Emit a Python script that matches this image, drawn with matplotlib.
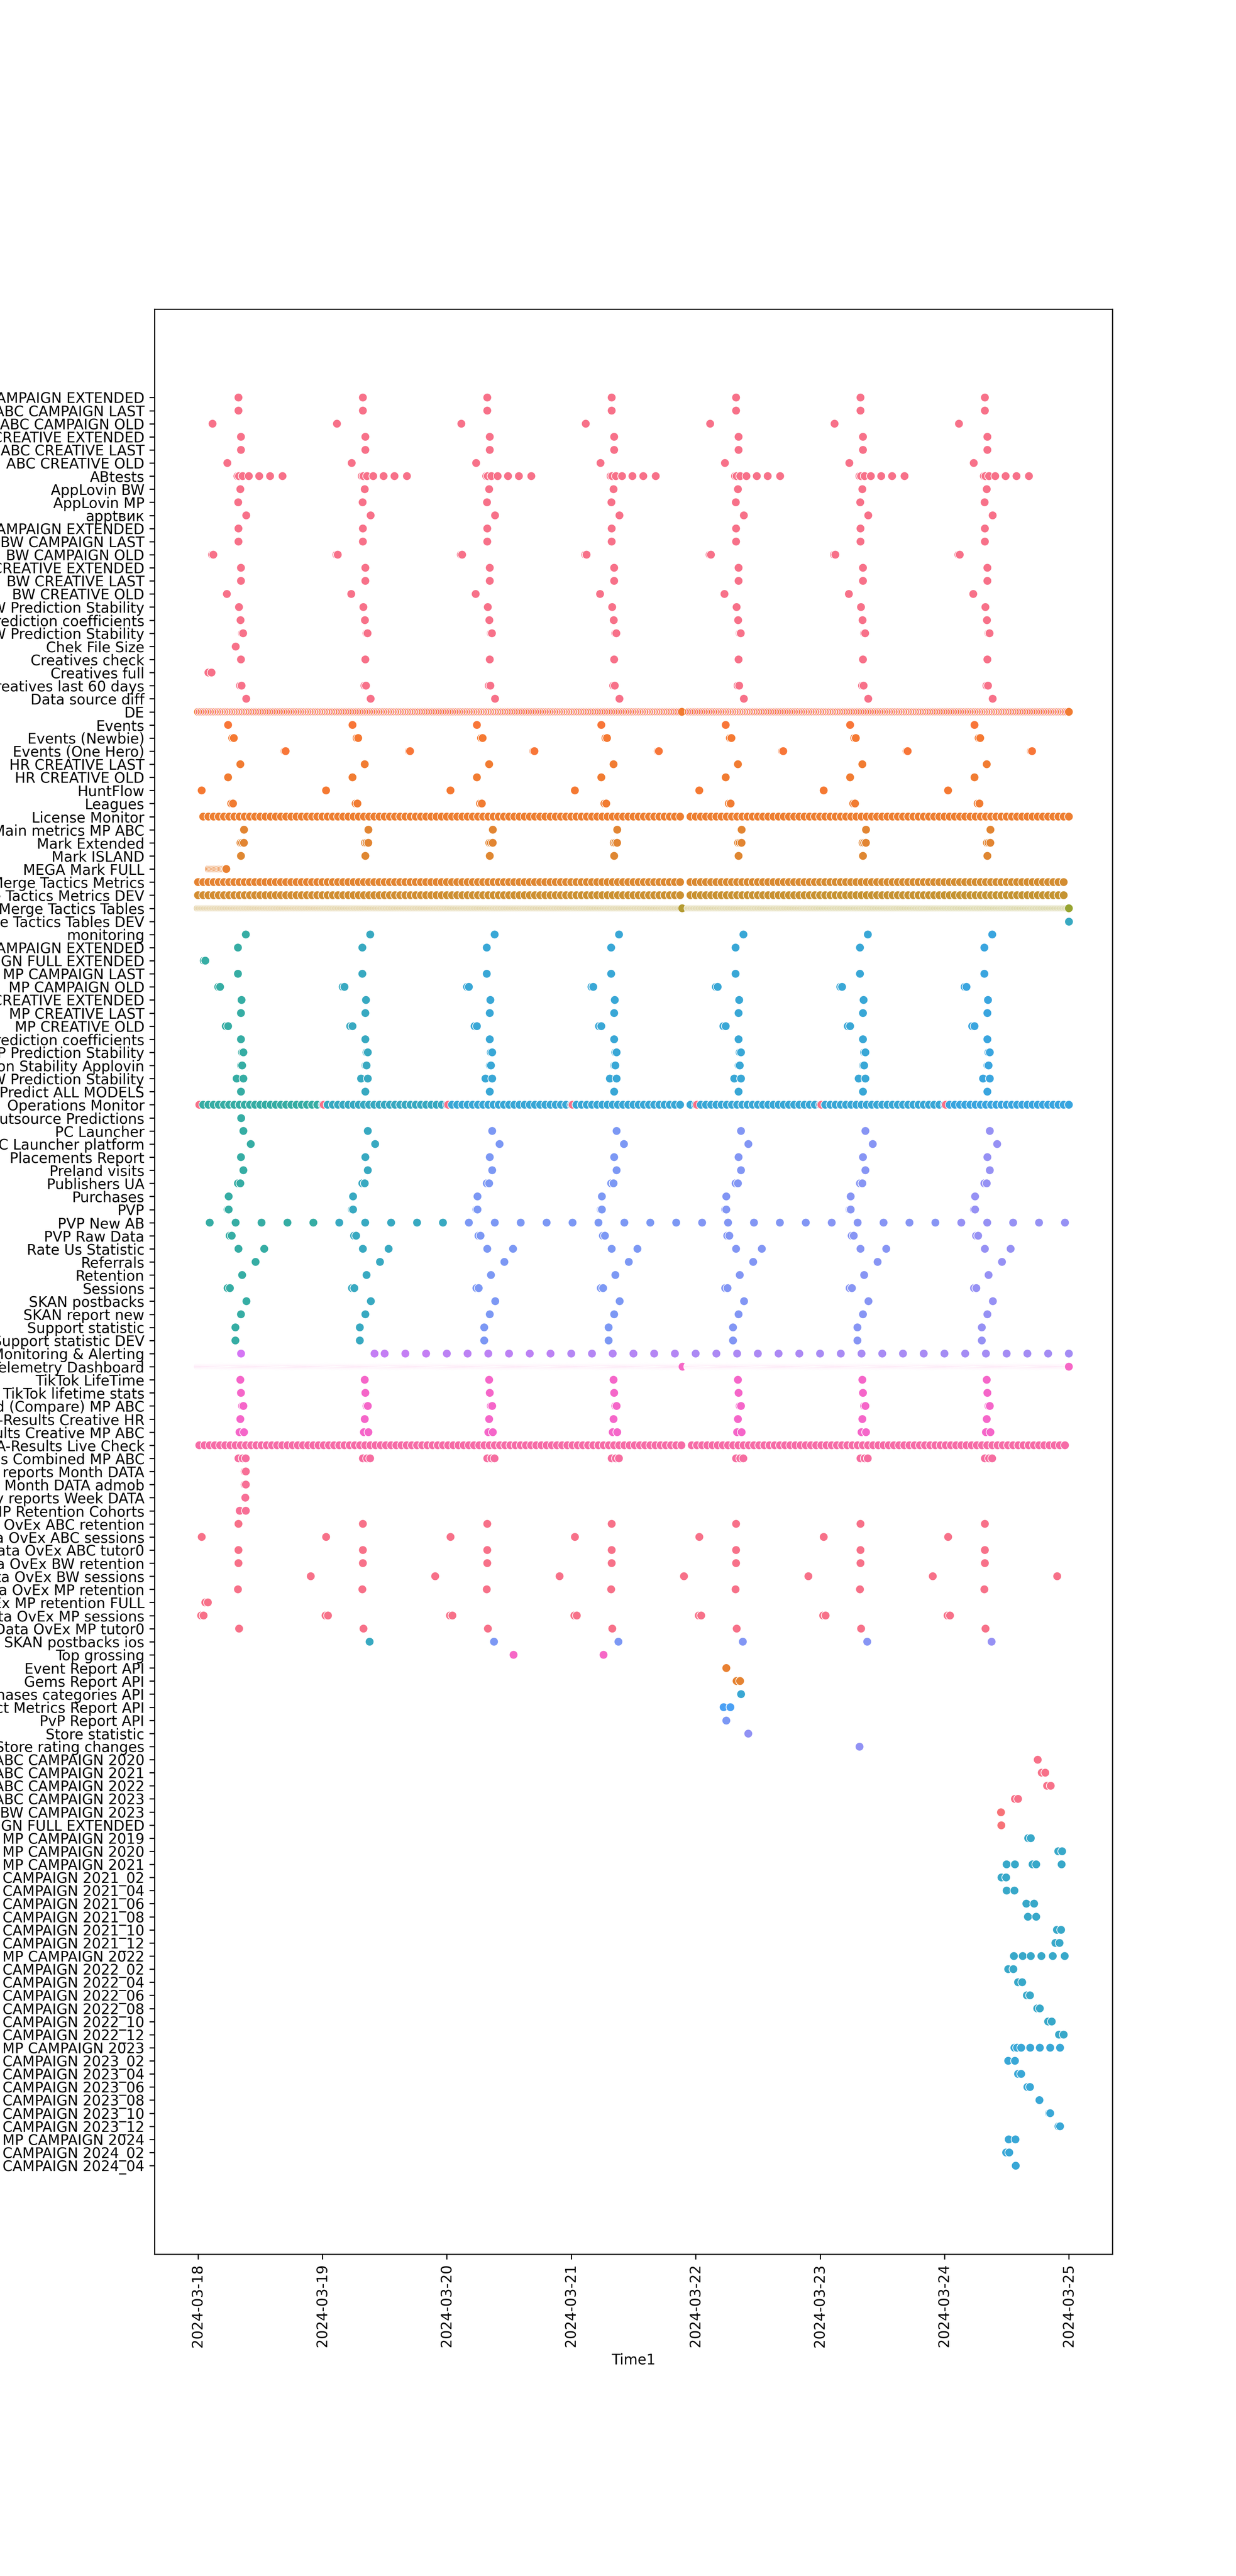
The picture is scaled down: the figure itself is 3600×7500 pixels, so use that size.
import matplotlib
matplotlib.use("Agg")
import matplotlib.pyplot as plt
import matplotlib.dates as mdates
import numpy as np
import pandas as pd
import seaborn as sns

# --- data -----------------------------------------------------------------
START = pd.Timestamp("2024-03-18 00:00")
N_DAYS = 7
OUTAGE = (93.55, 94.45)  # hours after START with no runs of the frequent jobs

names = [
    "ABC CAMPAIGN EXTENDED", "ABC CAMPAIGN LAST", "ABC CAMPAIGN OLD",
    "ABC CREATIVE EXTENDED", "ABC CREATIVE LAST", "ABC CREATIVE OLD",
    "ABtests", "AppLovin BW", "AppLovin MP", "apptвик",
    "BW CAMPAIGN EXTENDED", "BW CAMPAIGN LAST", "BW CAMPAIGN OLD",
    "BW CREATIVE EXTENDED", "BW CREATIVE LAST", "BW CREATIVE OLD",
    "BW NEW Prediction Stability", "BW Prediction coefficients", "BW Prediction Stability",
    "Chek File Size", "Creatives check", "Creatives full", "Creatives last 60 days",
    "Data source diff", "DE", "Events", "Events (Newbie)", "Events (One Hero)",
    "HR CREATIVE LAST", "HR CREATIVE OLD", "HuntFlow", "Leagues", "License Monitor",
    "Main metrics MP ABC", "Mark Extended", "Mark ISLAND", "MEGA Mark FULL",
    "Merge Tactics Metrics", "Merge Tactics Metrics DEV", "Merge Tactics Tables",
    "Merge Tactics Tables DEV", "monitoring",
    "MP CAMPAIGN EXTENDED", "MP CAMPAIGN FULL EXTENDED", "MP CAMPAIGN LAST", "MP CAMPAIGN OLD",
    "MP CREATIVE EXTENDED", "MP CREATIVE LAST", "MP CREATIVE OLD",
    "MP Prediction coefficients", "MP Prediction Stability", "MP Prediction Stability Applovin",
    "MP NEW Prediction Stability", "MP Predict ALL MODELS", "Operations Monitor",
    "Outsource Predictions", "PC Launcher", "PC Launcher platform", "Placements Report",
    "Preland visits", "Publishers UA", "Purchases", "PVP", "PVP New AB", "PVP Raw Data",
    "Rate Us Statistic", "Referrals", "Retention", "Sessions", "SKAN postbacks",
    "SKAN report new", "Support statistic", "Support statistic DEV",
    "Monitoring & Alerting", "Telemetry Dashboard", "TikTok LifeTime", "TikTok lifetime stats",
    "UA-Results Combined (Compare) MP ABC", "UA-Results Creative HR",
    "UA-Results Creative MP ABC", "UA-Results Live Check", "UA-Results Totals Combined MP ABC",
    "Weekly reports Month DATA", "Weekly reports Month DATA admob", "Weekly reports Week DATA",
    "MP Retention Cohorts",
    "Data OvEx ABC retention", "Data OvEx ABC sessions", "Data OvEx ABC tutor0",
    "Data OvEx BW retention", "Data OvEx BW sessions", "Data OvEx MP retention",
    "Data OvEx MP retention FULL", "Data OvEx MP sessions", "Data OvEx MP tutor0",
    "SKAN postbacks ios", "Top grossing", "Event Report API", "Gems Report API",
    "Purchases categories API", "Product Metrics Report API", "PvP Report API",
    "Store statistic", "Store rating changes",
    "ABC CAMPAIGN 2020", "ABC CAMPAIGN 2021", "ABC CAMPAIGN 2022", "ABC CAMPAIGN 2023",
    "BW CAMPAIGN 2023", "ABC CAMPAIGN FULL EXTENDED",
    "MP CAMPAIGN 2019", "MP CAMPAIGN 2020", "MP CAMPAIGN 2021",
    "MP CAMPAIGN 2021_02", "MP CAMPAIGN 2021_04", "MP CAMPAIGN 2021_06",
    "MP CAMPAIGN 2021_08", "MP CAMPAIGN 2021_10", "MP CAMPAIGN 2021_12",
    "MP CAMPAIGN 2022", "MP CAMPAIGN 2022_02", "MP CAMPAIGN 2022_04", "MP CAMPAIGN 2022_06",
    "MP CAMPAIGN 2022_08", "MP CAMPAIGN 2022_10", "MP CAMPAIGN 2022_12",
    "MP CAMPAIGN 2023", "MP CAMPAIGN 2023_02", "MP CAMPAIGN 2023_04", "MP CAMPAIGN 2023_06",
    "MP CAMPAIGN 2023_08", "MP CAMPAIGN 2023_10", "MP CAMPAIGN 2023_12",
    "MP CAMPAIGN 2024", "MP CAMPAIGN 2024_02", "MP CAMPAIGN 2024_04",
]

# jobs that run every day: hour of day of each run
daily_hours = {
    "ABC CAMPAIGN EXTENDED": [7.8], "ABC CAMPAIGN LAST": [7.8], "ABC CAMPAIGN OLD": [2.8],
    "ABC CREATIVE EXTENDED": [8.28], "ABC CREATIVE LAST": [8.28], "ABC CREATIVE OLD": [5.65],
    "ABtests": [7.6, 7.9, 8.6, 9.8, 11.8, 13.9, 16.3],
    "AppLovin BW": [8.16], "AppLovin MP": [7.75], "apptвик": [9.3],
    "BW CAMPAIGN EXTENDED": [7.8], "BW CAMPAIGN LAST": [7.8], "BW CAMPAIGN OLD": [2.7, 2.95],
    "BW CREATIVE EXTENDED": [8.28], "BW CREATIVE LAST": [8.28], "BW CREATIVE OLD": [5.56],
    "BW NEW Prediction Stability": [7.9], "BW Prediction coefficients": [8.2],
    "BW Prediction Stability": [8.5, 8.7],
    "Chek File Size": [7.2], "Creatives check": [8.28], "Creatives full": [2.0, 2.6],
    "Creatives last 60 days": [8.1, 8.4], "Data source diff": [9.3],
    "Events": [5.8], "Events (Newbie)": [6.6, 6.9], "Events (One Hero)": [16.7, 16.9],
    "HR CREATIVE LAST": [8.16], "HR CREATIVE OLD": [5.8], "HuntFlow": [0.7],
    "Leagues": [6.4, 6.75], "Main metrics MP ABC": [8.87],
    "Mark Extended": [8.2, 8.5, 8.85], "Mark ISLAND": [8.28],
    "monitoring": [9.22], "MP CAMPAIGN EXTENDED": [7.7], "MP CAMPAIGN FULL EXTENDED": [1.1, 1.4],
    "MP CAMPAIGN LAST": [7.7], "MP CAMPAIGN OLD": [3.9, 4.25],
    "MP CREATIVE EXTENDED": [8.4], "MP CREATIVE LAST": [8.28], "MP CREATIVE OLD": [5.35, 5.8],
    "MP Prediction coefficients": [8.28], "MP Prediction Stability": [8.5, 8.75],
    "MP Prediction Stability Applovin": [8.3, 8.51], "MP NEW Prediction Stability": [7.45, 8.75],
    "MP Predict ALL MODELS": [8.28], "Outsource Predictions": [8.28],
    "PC Launcher": [8.75], "PC Launcher platform": [10.17], "Placements Report": [8.28],
    "Preland visits": [8.75], "Publishers UA": [7.7, 8.16], "Purchases": [5.91],
    "PVP": [5.7, 5.91], "PVP Raw Data": [6.1, 6.5], "Rate Us Statistic": [7.8, 12.77],
    "Referrals": [11.1], "Retention": [8.51], "Sessions": [5.7, 6.15],
    "SKAN postbacks": [9.34], "SKAN report new": [8.28],
    "Support statistic": [7.21], "Support statistic DEV": [7.21],
    "TikTok LifeTime": [8.16], "TikTok lifetime stats": [8.28],
    "UA-Results Combined (Compare) MP ABC": [8.5, 8.75], "UA-Results Creative HR": [8.16],
    "UA-Results Creative MP ABC": [8.0, 8.87], "UA-Results Totals Combined MP ABC": [7.8, 8.6, 9.2],
    "Weekly reports Month DATA": [9.0, 9.22], "Weekly reports Month DATA admob": [9.0, 9.22],
    "Weekly reports Week DATA": [9.1], "MP Retention Cohorts": [8.04, 9.22],
    "Data OvEx ABC retention": [7.8], "Data OvEx ABC sessions": [0.71],
    "Data OvEx ABC tutor0": [7.8], "Data OvEx BW retention": [7.8],
    "Data OvEx BW sessions": [21.75], "Data OvEx MP retention": [7.7],
    "Data OvEx MP retention FULL": [1.4, 1.9], "Data OvEx MP sessions": [0.6, 1.07],
    "Data OvEx MP tutor0": [7.92], "SKAN postbacks ios": [9.1],
}

first_day_only = [
    "Chek File Size", "Creatives full", "MP CAMPAIGN FULL EXTENDED", "Outsource Predictions",
    "Weekly reports Month DATA", "Weekly reports Month DATA admob", "Weekly reports Week DATA",
    "MP Retention Cohorts", "Data OvEx MP retention FULL",
]
first_run_day = {"SKAN postbacks ios": 1}

# one-off runs: hours after 2024-03-18 00:00
single_runs = {
    "MEGA Mark FULL": [5.45],
    "Merge Tactics Tables DEV": [168.0],
    "Monitoring & Alerting": [8.3, 34.05],
    "Top grossing": [60.87, 78.23],
    "Event Report API": [101.87],
    "Gems Report API": [103.9, 104.57],
    "Purchases categories API": [104.7],
    "Product Metrics Report API": [101.4, 102.7],
    "PvP Report API": [101.88],
    "Store statistic": [106.1],
    "Store rating changes": [127.6],
    "ABC CAMPAIGN 2020": [161.97],
    "ABC CAMPAIGN 2021": [162.77, 163.45],
    "ABC CAMPAIGN 2022": [163.8, 164.5],
    "ABC CAMPAIGN 2023": [157.6, 158.2],
    "BW CAMPAIGN 2023": [154.9],
    "ABC CAMPAIGN FULL EXTENDED": [154.96],
    "MP CAMPAIGN 2019": [160.15, 160.66],
    "MP CAMPAIGN 2020": [165.96, 166.7],
    "MP CAMPAIGN 2021": [155.99, 157.6, 161.0, 161.7, 166.6],
    "MP CAMPAIGN 2021_02": [155.0, 155.9],
    "MP CAMPAIGN 2021_04": [156.0, 157.5],
    "MP CAMPAIGN 2021_06": [159.8, 161.3],
    "MP CAMPAIGN 2021_08": [160.1, 161.7],
    "MP CAMPAIGN 2021_10": [165.7, 166.5],
    "MP CAMPAIGN 2021_12": [165.4, 166.2],
    "MP CAMPAIGN 2022": [157.4, 159.1, 160.66, 162.7, 164.9, 167.2],
    "MP CAMPAIGN 2022_02": [156.3, 157.3],
    "MP CAMPAIGN 2022_04": [158.2, 159.0],
    "MP CAMPAIGN 2022_06": [159.9, 160.5],
    "MP CAMPAIGN 2022_08": [161.9, 162.4],
    "MP CAMPAIGN 2022_10": [164.0, 164.7],
    "MP CAMPAIGN 2022_12": [166.1, 167.0],
    "MP CAMPAIGN 2023": [157.5, 158.0, 158.8, 160.55, 162.4, 164.4, 166.3],
    "MP CAMPAIGN 2023_02": [156.3, 157.6],
    "MP CAMPAIGN 2023_04": [158.2, 158.8],
    "MP CAMPAIGN 2023_06": [160.0, 160.5],
    "MP CAMPAIGN 2023_08": [162.3],
    "MP CAMPAIGN 2023_10": [164.2, 164.4],
    "MP CAMPAIGN 2023_12": [166.0, 166.3],
    "MP CAMPAIGN 2024": [156.4, 157.7],
    "MP CAMPAIGN 2024_02": [155.9, 156.5],
    "MP CAMPAIGN 2024_04": [157.75],
}

# frequent jobs: (name, first run h, last run h, every n minutes, fixed hue or None)
periodic_jobs = [
    ("DE", 0, 168, 40, 0.08),
    ("DE", 1 / 3, 167 + 2 / 3, 40, 0.02),
    ("License Monitor", 1, 168, 60, None),
    ("MEGA Mark FULL", 2.1, 5.35, 15, None),
    ("Merge Tactics Metrics", 0, 167, 60, None),
    ("Merge Tactics Metrics DEV", 0, 167, 60, None),
    ("Merge Tactics Tables", 0, 168, 12, None),
    ("Operations Monitor", 1, 168, 60, None),
    ("Operations Monitor", 0.25, 144.25, 1440, 0.01),
    ("PVP New AB", 2.25, 167.25, 300, None),
    ("Monitoring & Alerting", 36, 168, 240, None),
    ("Telemetry Dashboard", 0, 168, 8, None),
    ("UA-Results Live Check", 0.25, 167.25, 60, None),
]

# husl hue (0-1) of the points, per day 03-18 ... 03-25
hue_mp = [0.51, 0.60, 0.645, 0.645, 0.645, 0.645, 0.66, 0.66]
hue_pv = [0.51, 0.60, 0.72, 0.72, 0.725, 0.73, 0.745, 0.75]
row_hue = {
    "Events": 0.07, "Events (Newbie)": 0.075, "Events (One Hero)": 0.07,
    "HR CREATIVE LAST": 0.08, "HR CREATIVE OLD": 0.08, "HuntFlow": 0.075, "Leagues": 0.08,
    "License Monitor": 0.085, "Main metrics MP ABC": 0.10, "Mark Extended": 0.10,
    "Mark ISLAND": 0.105, "MEGA Mark FULL": 0.09,
    "Merge Tactics Metrics": [0.095, 0.10, 0.105, 0.11, 0.115, 0.12, 0.125, 0.125],
    "Merge Tactics Metrics DEV": [0.125, 0.13, 0.135, 0.14, 0.145, 0.15, 0.155, 0.155],
    "Merge Tactics Tables": [0.165, 0.175, 0.185, 0.195, 0.205, 0.215, 0.225, 0.26],
    "Merge Tactics Tables DEV": 0.60,
    "Monitoring & Alerting": [0.82, 0.80, 0.79, 0.78, 0.77, 0.765, 0.76, 0.76],
    "Telemetry Dashboard": 0.92, "TikTok LifeTime": 0.915, "TikTok lifetime stats": 0.915,
    "UA-Results Combined (Compare) MP ABC": 0.915, "UA-Results Creative HR": 0.915,
    "UA-Results Creative MP ABC": 0.915, "UA-Results Live Check": 0.97,
    "UA-Results Totals Combined MP ABC": 0.98,
    "Weekly reports Month DATA": 0.995, "Weekly reports Month DATA admob": 0.995,
    "Weekly reports Week DATA": 0.995, "MP Retention Cohorts": 0.995,
    "SKAN postbacks ios": hue_pv, "Top grossing": 0.92,
    "Event Report API": 0.09, "Gems Report API": 0.095, "Purchases categories API": 0.64,
    "Product Metrics Report API": 0.69, "PvP Report API": 0.72,
    "Store statistic": 0.74, "Store rating changes": 0.74,
    "BW CAMPAIGN 2023": 0.03, "ABC CAMPAIGN FULL EXTENDED": 0.03,
}
mp_block = names[names.index("monitoring"):names.index("Outsource Predictions") + 1]
pv_block = names[names.index("PC Launcher"):names.index("Support statistic DEV") + 1]
for n in mp_block:
    row_hue.setdefault(n, hue_mp)
for n in pv_block:
    row_hue.setdefault(n, hue_pv)
for n in names[names.index("MP CAMPAIGN 2019"):]:
    row_hue[n] = 0.62 if n < "MP CAMPAIGN 2023" else 0.645


# --- build points ---------------------------------------------------------
def row_points(name):
    pts = []
    if name in daily_hours:
        days = [0] if name in first_day_only else range(first_run_day.get(name, 0), N_DAYS)
        for d in days:
            for h in daily_hours[name]:
                pts.append((24 * d + h, None))
    for h in single_runs.get(name, []):
        pts.append((h, None))
    for n, a, b, step, hue in periodic_jobs:
        if n != name:
            continue
        for m in range(int(round(a * 60)), int(round(b * 60)) + 1, step):
            h = m / 60
            if step <= 60 and OUTAGE[0] < h < OUTAGE[1]:
                continue
            pts.append((h, hue))
    pts.sort(key=lambda p: p[0])

    base = row_hue.get(name, 0.01)
    hours, hues = [], []
    for h, hue in pts:
        if hue is None:
            hue = base[min(int(h // 24), 7)] if isinstance(base, list) else base
        hours.append(h)
        hues.append(hue)
    return hours, hues


_cache = {}
def husl(h):
    if h not in _cache:
        _cache[h] = sns.husl_palette(1, h=h, s=.9, l=.65)[0]
    return _cache[h]


# --- plot -----------------------------------------------------------------
fig = plt.figure(figsize=(12, 25))
fig.subplots_adjust(left=0.125, right=0.9, top=0.88, bottom=0.125)
ax = fig.add_subplot(111)

for name in names:
    hours, hues = row_points(name)
    times = (START + pd.to_timedelta(np.array(hours), unit="h")).to_numpy()
    ax.scatter(times, [name] * len(times), s=36, c=[husl(h) for h in hues],
               edgecolors="w", linewidths=0.48)

ax.invert_yaxis()
ax.xaxis.set_major_locator(mdates.DayLocator())
ax.xaxis.set_major_formatter(mdates.DateFormatter("%Y-%m-%d"))
plt.setp(ax.get_xticklabels(), rotation=90)
ax.set_xlabel("Time1")
ax.set_ylabel("")

fig.savefig("out.png", dpi=300)
